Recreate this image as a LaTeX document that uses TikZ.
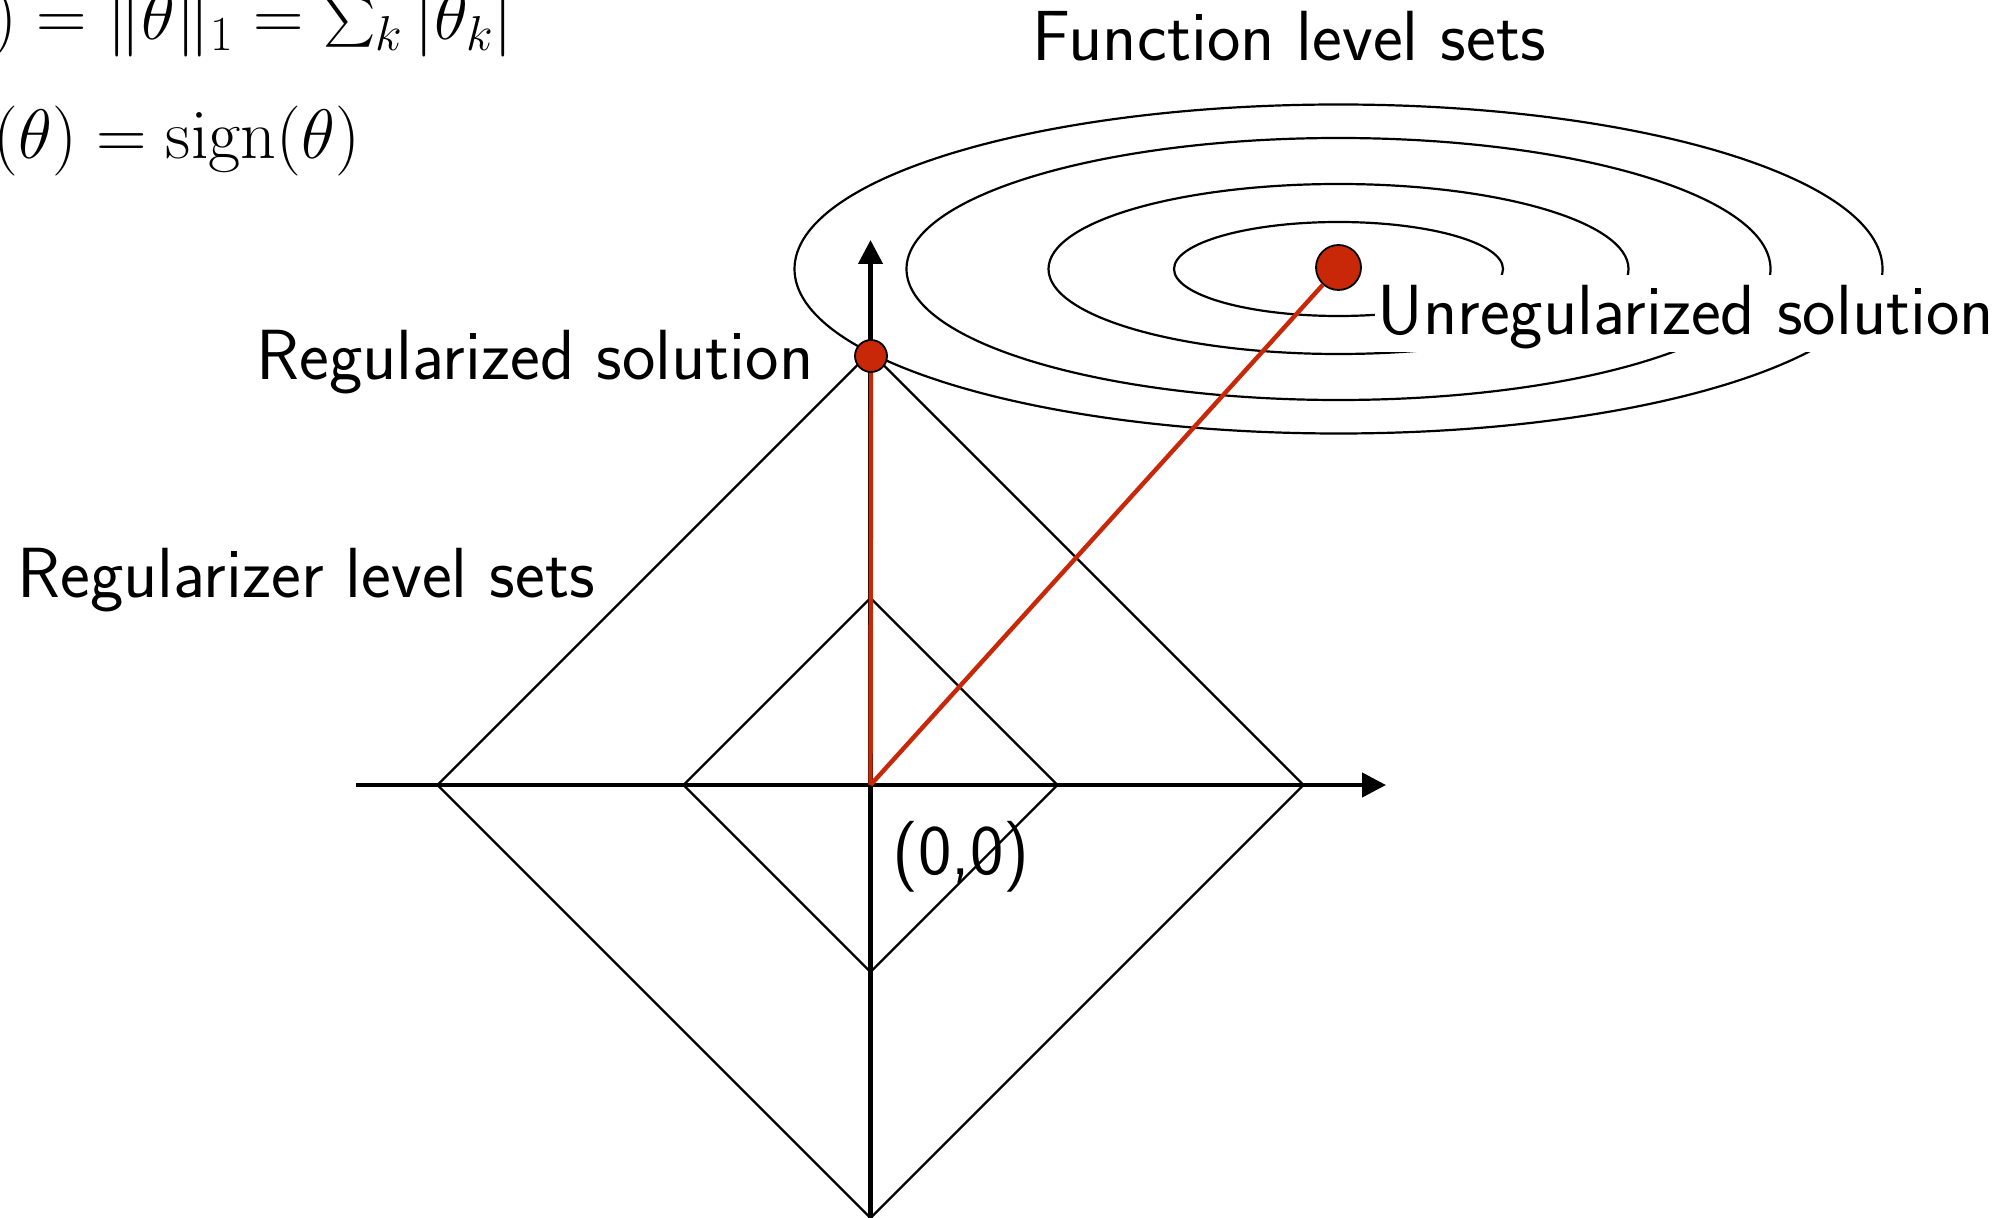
\RequirePackage{fix-cm}
\documentclass[tikz,border=0pt]{standalone}
\usepackage{exscale}
\usetikzlibrary{arrows.meta}
\definecolor{solred}{RGB}{200,40,8}
\begin{document}
\begin{tikzpicture}[x=0.5pt,y=-0.5pt,
  axis/.style={line width=2.2pt, -{Triangle[length=12pt,width=12pt]}},
  level/.style={line width=1.1pt},
  sol/.style={solred, line width=2.2pt},
  dot/.style={circle, fill=solred, draw=black, line width=0.9pt, inner sep=0pt},
  lab/.style={font=\sffamily\fontsize{35.5}{42}\selectfont, inner sep=0pt},
  mathlab/.style={font=\fontsize{35}{42}\selectfont, inner sep=0pt}]
\useasboundingbox (0,0) rectangle (2006,1218);
\coordinate (O) at (870.5,785);
% function level sets
\draw[level] (1338.5,269) ellipse [x radius=544, y radius=164.5];
\draw[level] (1338.5,269) ellipse [x radius=432, y radius=131];
\draw[level] (1338.5,269) ellipse [x radius=290, y radius=85];
\draw[level] (1338.5,269) ellipse [x radius=164.5, y radius=47];
\fill[white] (1375,275) rectangle (2010,352);
% regularizer level sets
\draw[level] (437.5,785) -- (870.5,352) -- (1303.5,785) -- (870.5,1218) -- cycle;
\draw[level] (683.5,785) -- (870.5,598) -- (1057.5,785) -- (870.5,972) -- cycle;
% axes
\coordinate (xs) at (356,785);
\coordinate (xe) at (1386,785);
\coordinate (ys) at (870.5,1222);
\coordinate (ye) at (870.5,240);
\draw[axis] (xs) -- (xe);
\draw[axis] (ys) -- (ye);
% solutions
\node[dot, minimum size=16pt] (reg) at (871,356) {};
\node[dot, minimum size=22.5pt] (unreg) at (1338.5,267.5) {};
\draw[sol] (O) -- (reg);
\draw[sol] (O) -- (unreg);
% labels
\node[lab, anchor=base west] (reglab) at (256,380) {Regularized solution};
\node[lab, anchor=base west] (rlsets) at (17,597) {Regularizer level sets};
\node[lab, anchor=base west] (unreglab) at (1377,335) {Unregularized solution};
\node[lab, anchor=base west] (flsets) at (1032,61) {Function level sets};
\node[lab, anchor=center] (orig) at (961,857) {(0,0)};
% formulas
\node[mathlab, anchor=base west] (f1) at (-8,40) {$) = \|\theta\|_1 = \sum_k |\theta_k|$};
\node[mathlab, anchor=base west] (f2) at (-7,159) {$(\theta) = \mathrm{sign}(\theta)$};
\end{tikzpicture}
\end{document}
